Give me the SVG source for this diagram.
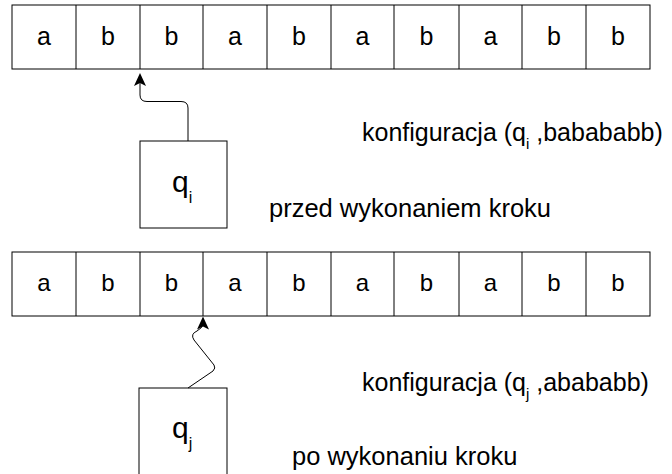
<svg xmlns="http://www.w3.org/2000/svg" xmlns:xlink="http://www.w3.org/1999/xlink" width="672" height="474" viewBox="0 0 672 474">
<defs>
<style>
.cell{fill:#fff;stroke:#000;stroke-width:1}
.t{font-family:"Liberation Sans",Arial,sans-serif;font-size:25px;fill:#000}
.c{text-anchor:middle}
.sub{font-size:15px}
.conn{fill:none;stroke:#000;stroke-width:1}
</style>
<path id="head" d="M0,0 L6,13 L0,10 L-6,13 Z" fill="#000"/>
</defs>
<rect width="672" height="474" fill="#fff"/>
<g id="tape1">
<rect class="cell" x="12" y="5" width="638" height="64"/>
<path class="cell" d="M76,5V69M140,5V69M203,5V69M267,5V69M331,5V69M394,5V69M459,5V69M522,5V69M586,5V69"/>
<g class="t c">
<text x="44" y="45">a</text><text x="108" y="45">b</text><text x="171.5" y="45">b</text><text x="235" y="45">a</text><text x="299" y="45">b</text><text x="362.5" y="45">a</text><text x="426.5" y="45">b</text><text x="490.5" y="45">a</text><text x="554" y="45">b</text><text x="618" y="45">b</text>
</g>
</g>
<g id="state1">
<rect class="cell" x="140" y="141" width="87" height="87"/>
<text class="t" x="172" y="192" style="font-size:30px">q<tspan class="sub" dy="11" style="font-size:16px">i</tspan></text>
</g>
<g id="tape2">
<rect class="cell" x="12" y="252" width="638" height="64"/>
<path class="cell" d="M76,252V316M140,252V316M203,252V316M267,252V316M331,252V316M394,252V316M459,252V316M522,252V316M586,252V316"/>
<g class="t c" style="font-size:24px">
<text x="44" y="291">a</text><text x="108" y="291">b</text><text x="171.5" y="291">b</text><text x="235" y="291">a</text><text x="299" y="291">b</text><text x="362.5" y="291">a</text><text x="426.5" y="291">b</text><text x="490.5" y="291">a</text><text x="554" y="291">b</text><text x="618" y="291">b</text>
</g>
</g>
<g id="state2">
<rect class="cell" x="139" y="388" width="88" height="90"/>
<text class="t" x="172" y="438" style="font-size:30px">q<tspan class="sub" dy="11" style="font-size:16px">j</tspan></text>
</g>
<g id="connectors">
<path class="conn" d="M188,141 V108 Q188,101.5 181,101.5 H147 Q140,101.5 140,95 V82"/>
<use xlink:href="#head" x="140" y="73"/>
<path class="conn" d="M188,388 L213,371 Q216,368 214,365 L194,340 Q190,334 197,331 Q203,328 203,323 V326"/>
<use xlink:href="#head" x="203" y="316.5"/>
</g>
<g id="labels">
<text class="t" x="362" y="141">konfiguracja (q<tspan class="sub" dy="8">i</tspan><tspan dy="-8"> ,babababb)</tspan></text>
<text class="t" x="269" y="217" style="font-size:25.5px">przed wykonaniem kroku</text>
<text class="t" x="362" y="391">konfiguracja (q<tspan class="sub" dy="8">j</tspan><tspan dy="-8"> ,abababb)</tspan></text>
<text class="t" x="292" y="465" style="font-size:25.5px">po wykonaniu kroku</text>
</g>
</svg>
